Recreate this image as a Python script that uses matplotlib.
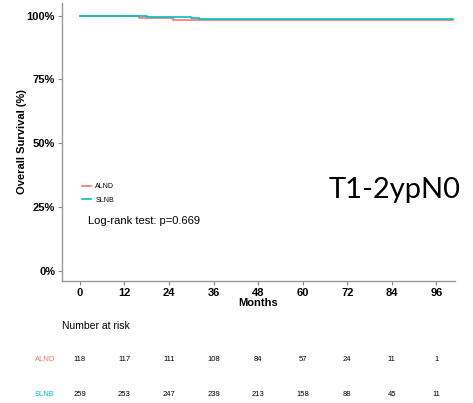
import matplotlib
matplotlib.use("Agg")
import matplotlib.pyplot as plt
import matplotlib.transforms as mtransforms

# Kaplan-Meier steps (months, overall survival %)
alnd_time = [0, 16, 25, 100.5]
alnd_surv = [100, 99.2, 98.3, 98.3]
slnb_time = [0, 18, 30, 32, 100.5]
slnb_surv = [100, 99.6, 99.2, 98.8, 98.8]

groups = ["ALND", "SLNB"]
colors = {"ALND": "#F8766D", "SLNB": "#00BFC4"}

risk_times = [0, 12, 24, 36, 48, 60, 72, 84, 96]
alnd_risk = [118, 117, 111, 108, 84, 57, 24, 11, 1]
slnb_risk = [259, 253, 247, 239, 213, 158, 88, 45, 11]

y_ticks = [0, 25, 50, 75, 100]
pvalue_text = "Log-rank test: p=0.669"
panel_label = "T1-2ypN0"

plt.rcParams["font.family"] = ["Liberation Sans", "DejaVu Sans"]

fig = plt.figure(figsize=(4.73, 4.03), dpi=100)
ax = fig.add_axes([0.131, 0.303, 0.831, 0.690])

ax.step(alnd_time, alnd_surv, where="post", color=colors["ALND"], lw=1.2, label="ALND")
ax.step(slnb_time, slnb_surv, where="post", color=colors["SLNB"], lw=1.2, label="SLNB")

ax.set_xlim(-4.8, 101)
ax.set_ylim(-4, 105)
ax.set_xticks(risk_times)
ax.set_yticks(y_ticks)
ax.set_yticklabels([f"{v}%" for v in y_ticks])
for lbl in ax.get_xticklabels() + ax.get_yticklabels():
    lbl.set_fontweight("bold")
    lbl.set_fontsize(8)
ax.tick_params(axis="both", colors="#888888", labelcolor="black", length=3, width=0.8, pad=2)

for side in ["top", "right"]:
    ax.spines[side].set_visible(False)
for side in ["left", "bottom"]:
    ax.spines[side].set_color("#999999")
    ax.spines[side].set_linewidth(1.0)

ax.set_xlabel("Months", fontsize=8, fontweight="bold", labelpad=0)
ax.set_ylabel("Overall Survival (%)", fontsize=8, fontweight="bold", labelpad=0)

ax.legend(loc="lower left", bbox_to_anchor=(0.035, 0.255), frameon=False, fontsize=5,
          handlelength=1.3, handletextpad=0.6, labelspacing=0.9)
ax.text(0.065, 0.215, pvalue_text, transform=ax.transAxes, fontsize=8, va="center")

fig.text(0.695, 0.528, panel_label, fontsize=21, family=["Lato", "DejaVu Sans"], va="center")

# Number at risk table under the axis
trans = mtransforms.blended_transform_factory(ax.transData, fig.transFigure)
fig.text(0.131, 0.19, "Number at risk", fontsize=7.5, va="center")
rows = [("ALND", alnd_risk, 0.107), ("SLNB", slnb_risk, 0.022)]
for name, counts, yfig in rows:
    fig.text(0.095, yfig, name, fontsize=5.5, color=colors[name], va="center", ha="center")
    for t, n in zip(risk_times, counts):
        ax.text(t, yfig, str(n), transform=trans, fontsize=5.5, ha="center", va="center")

fig.savefig("out.png", dpi=100)
